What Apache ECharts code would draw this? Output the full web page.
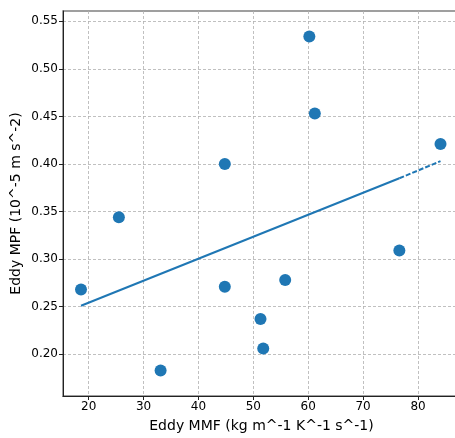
<!DOCTYPE html>
<html>
<head>
<meta charset="utf-8">
<script src="https://cdn.jsdelivr.net/npm/echarts@6/dist/echarts.min.js"></script>
<style>html,body{margin:0;padding:0;background:#fff;}#c{width:455px;height:438px;}</style>
</head>
<body>
<div id="c"></div>
<script>
// Scatter data (Eddy MMF, Eddy MPF)
const mmf = [18.6, 25.5, 33.1, 44.8, 44.8, 51.3, 51.8, 55.8, 60.2, 61.2, 76.6, 84.1];
const mpf = [0.268, 0.344, 0.183, 0.400, 0.271, 0.237, 0.206, 0.278, 0.534, 0.453, 0.309, 0.421];
// Regression line
const fitX = [18.6, 76.6, 84.1];
const fitY = [0.251, 0.385, 0.403];
// Tick labels
const xTicks = [20, 30, 40, 50, 60, 70, 80];
const yTicks = [0.20, 0.25, 0.30, 0.35, 0.40, 0.45, 0.50, 0.55];

const C = '#1f77b4';
const font = 'DejaVu Sans';
const chart = echarts.init(document.getElementById('c'), null, {renderer: 'canvas'});
const pts = mmf.map((x, i) => [x, mpf[i]]);
chart.setOption({
  animation: false,
  backgroundColor: '#fff',
  grid: {left: 63, top: 11, height: 385, width: 397, outerBoundsMode: 'none', containLabel: false,
         show: true, borderColor: '#808080', borderWidth: 1.5, backgroundColor: 'transparent'},
  xAxis: {
    type: 'value', min: 15.32, max: 87.65,
    name: 'Eddy MMF (kg m^-1 K^-1 s^-1)', nameLocation: 'middle', nameGap: 23,
    nameTextStyle: {fontFamily: font, fontSize: 14, color: '#000'},
    axisLine: {lineStyle: {color: '#222', width: 1}},
    axisTick: {show: true, length: 4, customValues: xTicks, lineStyle: {color: '#222'}},
    axisLabel: {customValues: xTicks, fontFamily: font, fontSize: 12, color: '#000', margin: 5},
    splitLine: {show: true, lineStyle: {color: '#b0b0b0', type: [3, 2], width: 0.8}}
  },
  yAxis: {
    type: 'value', min: 0.1562, max: 0.5608,
    name: 'Eddy MPF (10^-5 m s^-2)', nameLocation: 'middle', nameGap: 40, nameMoveOverlap: false,
    nameTextStyle: {fontFamily: font, fontSize: 14, color: '#000'},
    axisLine: {show: true, lineStyle: {color: '#222', width: 1}},
    axisTick: {show: true, length: 4, customValues: yTicks, lineStyle: {color: '#222'}},
    axisLabel: {customValues: yTicks, fontFamily: font, fontSize: 12, color: '#000', margin: 5,
      formatter: v => v.toFixed(2)},
    splitLine: {show: true, lineStyle: {color: '#b0b0b0', type: [3, 2], width: 0.8}}
  },
  series: [
    {type: 'line', data: [[fitX[0], fitY[0]], [fitX[1], fitY[1]]], showSymbol: false, symbol: 'none',
     lineStyle: {color: C, width: 2}, z: 2},
    {type: 'line', data: [[fitX[1], fitY[1]], [fitX[2], fitY[2]]], showSymbol: false, symbol: 'none',
     lineStyle: {color: C, width: 2, type: [5, 2]}, z: 2},
    {type: 'scatter', data: pts, symbolSize: 12, itemStyle: {color: C, opacity: 1}, z: 3}
  ]
});
</script>
</body>
</html>
